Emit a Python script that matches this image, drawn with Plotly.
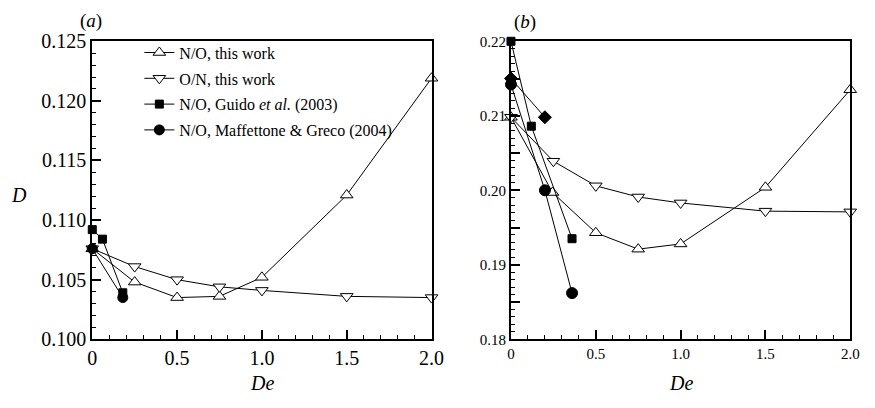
import plotly.graph_objects as go

# ---------- Panel (a) data ----------
a_no_x = [0.0, 0.25, 0.5, 0.75, 1.0, 1.5, 2.0]
a_no_y = [0.1076, 0.1048, 0.1035, 0.1036, 0.1052, 0.1121, 0.1219]
a_on_x = [0.0, 0.25, 0.5, 0.75, 1.0, 1.5, 2.0]
a_on_y = [0.1076, 0.1061, 0.1050, 0.1044, 0.1041, 0.1036, 0.1035]
a_guido_x = [0.0, 0.06, 0.18]
a_guido_y = [0.1092, 0.1084, 0.1039]
a_maff_x = [0.0, 0.18]
a_maff_y = [0.1076, 0.1035]

# ---------- Panel (b) data ----------
b_no_x = [0.0, 0.245, 0.5, 0.75, 1.0, 1.5, 2.0]
b_no_y = [0.2098, 0.1997, 0.1943, 0.1921, 0.1928, 0.2004, 0.2135]
b_on_x = [0.0, 0.25, 0.5, 0.75, 1.0, 1.5, 2.0]
b_on_y = [0.2098, 0.2039, 0.2006, 0.1991, 0.1983, 0.1972, 0.1971]
b_guido_x = [0.0, 0.12, 0.36]
b_guido_y = [0.2200, 0.2086, 0.1935]
b_maff_x = [0.0, 0.2, 0.36]
b_maff_y = [0.2142, 0.2000, 0.1862]
b_diam_x = [0.0, 0.2]
b_diam_y = [0.2150, 0.2098]

legend_names = ["N/O, this work", "O/N, this work",
                "N/O, Guido <i>et al.</i> (2003)",
                "N/O, Maffettone &amp; Greco (2004)"]

FONT = "Liberation Serif, Times New Roman, Times, serif"
fig = go.Figure()

def add(x, y, sym, size, fill, name, xa, ya, show, group, lw=1):
    fig.add_trace(go.Scatter(
        x=x, y=y, mode="lines+markers", name=name,
        line=dict(color="black", width=lw),
        marker=dict(symbol=sym, size=size, color=fill,
                    line=dict(color="black", width=1)),
        xaxis=xa, yaxis=ya, showlegend=show, legendgroup=group, cliponaxis=False))

# panel a
add(a_no_x, a_no_y, "triangle-up", 11, "white", legend_names[0], "x", "y", True, "g1")
add(a_on_x, a_on_y, "triangle-down", 11, "white", legend_names[1], "x", "y", True, "g2")
add(a_guido_x, a_guido_y, "square", 8, "black", legend_names[2], "x", "y", True, "g3")
add(a_maff_x, a_maff_y, "circle", 10, "black", legend_names[3], "x", "y", True, "g4")
# panel b
add(b_no_x, b_no_y, "triangle-up", 11, "white", legend_names[0], "x2", "y2", False, "g1")
add(b_on_x, b_on_y, "triangle-down", 11, "white", legend_names[1], "x2", "y2", False, "g2")
add(b_guido_x, b_guido_y, "square", 8, "black", legend_names[2], "x2", "y2", False, "g3")
add(b_maff_x, b_maff_y, "circle", 11, "black", legend_names[3], "x2", "y2", False, "g4")
add(b_diam_x, b_diam_y, "diamond", 10, "black", "diamond", "x2", "y2", False, "g5")

W, H = 875, 408
ydom = [(H - 347) / H, (H - 32) / H]

def xaxis(dom, fs):
    return dict(domain=dom, range=[0, 2.0], tickvals=[0, 0.5, 1.0, 1.5, 2.0],
                ticktext=["0", "0.5", "1.0", "1.5", "2.0"],
                ticks="inside", ticklen=9, tickwidth=2, tickcolor="black",
                minor=dict(dtick=0.1, ticks="inside", ticklen=4, tickwidth=1, tickcolor="black"),
                showline=True, linewidth=2, linecolor="black", mirror=True,
                showgrid=False, zeroline=False,
                tickfont=dict(family=FONT, size=fs, color="black"))

fig.update_layout(
    width=W, height=H, margin=dict(l=0, r=0, t=0, b=0),
    paper_bgcolor="white", plot_bgcolor="white",
    font=dict(family=FONT, color="black"),
    xaxis=xaxis([89 / W, 435 / W], 20),
    xaxis2=xaxis([516 / W, 862 / W], 15),
    yaxis=dict(domain=ydom, range=[0.100, 0.125],
               tickvals=[0.100, 0.105, 0.110, 0.115, 0.120, 0.125],
               ticktext=["0.100", "0.105", "0.110", "0.115", "0.120", "0.125"],
               ticks="inside", ticklen=9, tickwidth=2, tickcolor="black",
               minor=dict(dtick=0.001, ticks="inside", ticklen=4, tickwidth=1, tickcolor="black"),
               showline=True, linewidth=2, linecolor="black", mirror=True,
               showgrid=False, zeroline=False,
               tickfont=dict(family=FONT, size=20, color="black")),
    yaxis2=dict(domain=ydom, range=[0.18, 0.22], anchor="x2",
                tickvals=[0.18, 0.185, 0.19, 0.195, 0.20, 0.205, 0.21, 0.215, 0.22],
                ticktext=["0.18", "", "0.19", "", "0.20", "", "0.21", "", "0.22"],
                ticks="inside", ticklen=9, tickwidth=2, tickcolor="black",
                minor=dict(dtick=0.001, ticks="inside", ticklen=4, tickwidth=1, tickcolor="black"),
                showline=True, linewidth=2, linecolor="black", mirror=True,
                showgrid=False, zeroline=False,
                tickfont=dict(family=FONT, size=15, color="black")),
    legend=dict(x=137 / W, y=1 - 26 / H, xanchor="left", yanchor="top",
                bgcolor="rgba(0,0,0,0)", font=dict(family=FONT, size=16, color="black"),
                tracegroupgap=2, itemwidth=30),
    showlegend=True,
)
fig.update_layout(xaxis2_anchor="y2")

ann = [
    dict(text="(<i>a</i>)", x=88 / W, y=1 - 11 / H, font_size=19),
    dict(text="(<i>b</i>)", x=530 / W, y=1 - 12 / H, font_size=19),
    dict(text="<i>D</i>", x=14 / W, y=1 - 195 / H, font_size=20),
    dict(text="<i>De</i>", x=262 / W, y=1 - 393 / H, font_size=20),
    dict(text="<i>De</i>", x=689 / W, y=1 - 393 / H, font_size=20),
]
for a in ann:
    fig.add_annotation(text=a["text"], x=a["x"], y=a["y"], xref="paper", yref="paper",
                       showarrow=False, xanchor="center", yanchor="middle",
                       font=dict(family=FONT, size=a["font_size"], color="black"))

fig.write_html("out.html")
